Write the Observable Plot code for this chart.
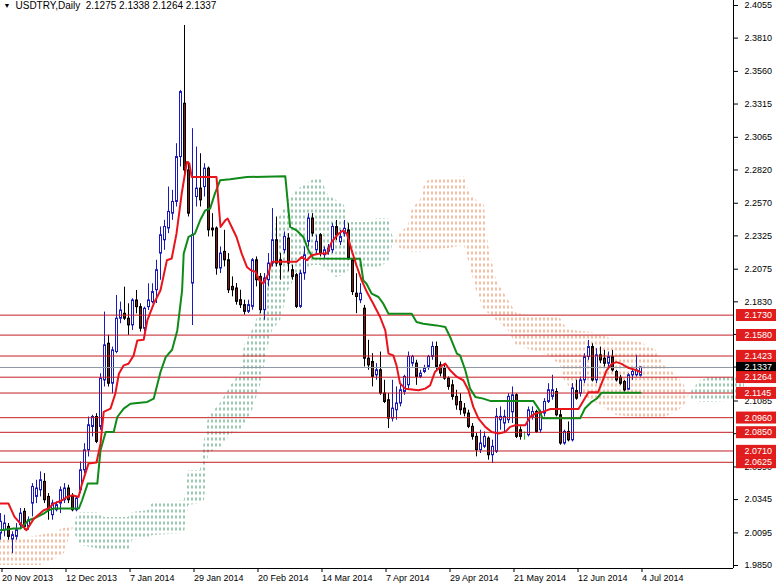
<!DOCTYPE html>
<html><head><meta charset="utf-8">
<script src="https://cdn.jsdelivr.net/npm/d3@7"></script>
<script src="https://cdn.jsdelivr.net/npm/@observablehq/plot@0.6"></script>
<style>
html,body{margin:0;padding:0;background:#fff;}
svg{display:block;}
svg text{white-space:pre;}
</style>
</head><body><div id="chart"></div>
<script>
// ---- data (USDTRY daily, bar index 0 = 20 Nov 2013) ----
const barOpen = [2.0090,2.0115,2.0140,2.0045,2.0065,2.0153,2.0253,2.0140,2.0315,2.0365,2.0415,2.0478,2.0365,2.0228,2.0265,2.0315,2.0340,2.0428,2.0365,2.0265,
2.0415,2.0565,2.0715,2.0890,2.0965,2.0890,2.1240,2.1515,2.1215,2.1453,2.1703,2.1740,2.1703,2.1653,2.1840,2.1790,2.1628,2.1790,2.1828,2.1917,
2.2192,2.2292,2.2380,2.2492,2.2580,2.2917,2.3317,2.2817,2.1967,2.2617,2.2680,2.2692,2.2830,2.2380,2.2380,2.2080,2.2205,2.2142,2.1942,2.1930,
2.1842,2.1805,2.1755,2.1792,2.2142,2.2017,2.1767,2.1992,2.2117,2.2292,2.2142,2.2217,2.2305,2.2067,2.2030,2.1792,2.2042,2.2280,2.2455,2.2217,
2.2330,2.2180,2.2205,2.2217,2.2391,2.2278,2.2341,2.2366,2.2141,2.1891,2.1841,2.1778,2.1403,2.1378,2.1278,2.1316,2.1141,2.1091,2.0953,2.1016,
2.1066,2.1153,2.1203,2.1366,2.1366,2.1266,2.1303,2.1341,2.1416,2.1491,2.1353,2.1328,2.1253,2.1203,2.1116,2.1078,2.1028,2.0991,2.0891,2.0816,
2.0716,2.0741,2.0803,2.0678,2.0703,2.0941,2.0916,2.0941,2.1000,2.1128,2.0866,2.0830,2.0828,2.0966,2.1003,2.0866,2.0991,2.1078,2.1116,2.1153,
2.0978,2.0766,2.0853,2.0790,2.1160,2.1140,2.1240,2.1415,2.1490,2.1240,2.1428,2.1403,2.1365,2.1415,2.1303,2.1260,2.1228,2.1170,2.1278,2.1278,
2.1275];
const barHigh = [2.0240,2.0228,2.0165,2.0103,2.0165,2.0278,2.0278,2.0215,2.0465,2.0490,2.0553,2.0540,2.0390,2.0340,2.0328,2.0440,2.0465,2.0453,2.0390,2.0365,
2.0628,2.0765,2.0965,2.0978,2.0990,2.1290,2.1753,2.1578,2.1490,2.1878,2.1828,2.1940,2.1815,2.1853,2.1915,2.1815,2.1790,2.1965,2.1965,2.2142,
2.2392,2.2442,2.2692,2.2667,2.3017,2.3417,2.3905,2.2880,2.3130,2.2992,2.2942,2.2867,2.2842,2.2492,2.2392,2.2242,2.2367,2.2192,2.2017,2.1967,
2.1917,2.1842,2.1842,2.2155,2.2167,2.2042,2.2042,2.2192,2.2530,2.2467,2.2192,2.2355,2.2342,2.2105,2.2042,2.2067,2.2242,2.2492,2.2492,2.2330,
2.2342,2.2242,2.2260,2.2417,2.2441,2.2366,2.2441,2.2416,2.2153,2.2041,2.1966,2.1803,2.1541,2.1441,2.1366,2.1453,2.1241,2.1141,2.1241,2.1191,
2.1203,2.1278,2.1453,2.1428,2.1391,2.1316,2.1353,2.1428,2.1528,2.1528,2.1378,2.1353,2.1266,2.1241,2.1166,2.1141,2.1066,2.1016,2.0916,2.0841,
2.0866,2.0853,2.0816,2.0791,2.1028,2.1041,2.1016,2.1141,2.1191,2.1140,2.0891,2.0853,2.1040,2.1041,2.1016,2.1016,2.1103,2.1215,2.1278,2.1178,
2.1016,2.0866,2.0928,2.1216,2.1241,2.1265,2.1440,2.1540,2.1515,2.1478,2.1490,2.1465,2.1453,2.1465,2.1315,2.1278,2.1240,2.1290,2.1328,2.1428,
2.1338];
const barLow = [2.0040,2.0065,2.0040,1.9940,2.0040,2.0128,2.0115,2.0115,2.0215,2.0315,2.0365,2.0315,2.0190,2.0190,2.0253,2.0240,2.0315,2.0315,2.0253,2.0253,
2.0390,2.0540,2.0665,2.0815,2.0765,2.0865,2.1190,2.1190,2.1140,2.1440,2.1665,2.1690,2.1578,2.1615,2.1740,2.1603,2.1603,2.1765,2.1815,2.1817,
2.1992,2.2217,2.2342,2.2442,2.2542,2.2842,2.2792,2.2467,2.1652,2.2542,2.2542,2.2617,2.2317,2.2317,2.2030,2.2042,2.2092,2.1892,2.1867,2.1805,
2.1780,2.1730,2.1742,2.1767,2.1942,2.1742,2.1692,2.1942,2.2092,2.2092,2.1992,2.2192,2.2055,2.1992,2.1780,2.1780,2.1992,2.2242,2.2317,2.2180,
2.2167,2.2155,2.2180,2.2192,2.2291,2.2253,2.2316,2.2141,2.1878,2.1741,2.1816,2.1341,2.1316,2.1191,2.1241,2.1128,2.1066,2.0878,2.0928,2.0941,
2.1041,2.1128,2.1178,2.1341,2.1203,2.1253,2.1291,2.1316,2.1391,2.1316,2.1266,2.1241,2.1166,2.1091,2.1016,2.0978,2.0966,2.0878,2.0791,2.0666,
2.0691,2.0728,2.0641,2.0616,2.0691,2.0866,2.0841,2.0916,2.0916,2.0803,2.0791,2.0791,2.0815,2.0941,2.0841,2.0841,2.0966,2.1066,2.1091,2.0966,
2.0753,2.0753,2.0778,2.0778,2.1091,2.1115,2.1215,2.1390,2.1228,2.1215,2.1365,2.1340,2.1340,2.1303,2.1228,2.1203,2.1153,2.1165,2.1240,2.1265,
2.1264];
const barClose = [2.0178,2.0165,2.0065,2.0078,2.0115,2.0240,2.0140,2.0190,2.0440,2.0428,2.0490,2.0340,2.0265,2.0315,2.0303,2.0415,2.0428,2.0340,2.0265,2.0353,
2.0565,2.0715,2.0903,2.0965,2.0778,2.1253,2.1503,2.1215,2.1465,2.1703,2.1765,2.1703,2.1653,2.1840,2.1790,2.1628,2.1778,2.1840,2.1903,2.2067,
2.2330,2.2392,2.2505,2.2580,2.2917,2.3405,2.2817,2.2492,2.2330,2.2680,2.2592,2.2830,2.2367,2.2367,2.2080,2.2192,2.2142,2.1917,2.1917,2.1830,
2.1805,2.1755,2.1805,2.2142,2.1992,2.1767,2.2005,2.2117,2.2292,2.2117,2.2105,2.2317,2.2117,2.2017,2.1792,2.2042,2.2180,2.2455,2.2342,2.2280,
2.2192,2.2217,2.2230,2.2392,2.2329,2.2316,2.2378,2.2153,2.1903,2.1866,2.1891,2.1403,2.1353,2.1266,2.1316,2.1141,2.1078,2.0953,2.1028,2.1066,
2.1166,2.1266,2.1416,2.1416,2.1266,2.1291,2.1328,2.1416,2.1491,2.1341,2.1291,2.1253,2.1191,2.1116,2.1053,2.1016,2.0991,2.0891,2.0816,2.0716,
2.0766,2.0816,2.0678,2.0741,2.0966,2.0966,2.0966,2.1116,2.1128,2.0816,2.0816,2.0830,2.1015,2.1003,2.0853,2.0991,2.1078,2.1166,2.1166,2.0978,
2.0766,2.0853,2.0790,2.1180,2.1103,2.1240,2.1415,2.1490,2.1240,2.1428,2.1390,2.1365,2.1415,2.1315,2.1240,2.1215,2.1165,2.1278,2.1303,2.1315,
2.1337];

// Tenkan-sen (red) and Kijun-sen (green): [bar index, price] at the line's vertices
const tenkanPts = [[0,2.0315],[2,2.0315],[3.5,2.0215],[6.5,2.0115],[8.3,2.0200],[10.8,2.0265],[12,2.0278],[13.3,2.0315],[15.4,2.0340],[16.7,2.0365],[18,2.0378],[19.5,2.0365],[20.4,2.0465],[22,2.0615],[24,2.0623],[25,2.0765],[25.8,2.1003],[27.5,2.1028],[28.7,2.1140],[29.6,2.1290],[30.8,2.1353],[32,2.1365],[33.3,2.1428],[34.2,2.1540],[35.8,2.1545],[36.7,2.1690],[38.3,2.1815],[40,2.1917],[41.6,2.2142],[42.8,2.2155],[44,2.2342],[45.3,2.2642],[46.6,2.2880],[47.2,2.2870],[47.8,2.2767],[54,2.2767],[55,2.2392],[56.2,2.2442],[56.8,2.2455],[57.8,2.2392],[59,2.2317],[60.3,2.2192],[61.6,2.2092],[62.6,2.2067],[63.8,2.2055],[64.7,2.1992],[65.7,2.1967],[67,2.2042],[67.8,2.2130],[74,2.2130],[75.3,2.2167],[76.6,2.2142],[77.8,2.2180],[79.9,2.2192],[81.6,2.2192],[82.8,2.2280],[84.5,2.2341],[85.7,2.2366],[86.6,2.2341],[87.8,2.2216],[89,2.2103],[90.3,2.1991],[91.6,2.1903],[93.2,2.1816],[94.9,2.1716],[96.2,2.1616],[97,2.1441],[98.2,2.1428],[99,2.1353],[99.9,2.1216],[101.2,2.1178],[104.5,2.1166],[106.2,2.1178],[107.4,2.1203],[108.6,2.1303],[109.9,2.1341],[111.2,2.1366],[112.4,2.1316],[114.1,2.1266],[115.7,2.1241],[117,2.1166],[118.2,2.1041],[119.5,2.0953],[121.2,2.0891],[122.8,2.0853],[124.5,2.0841],[126.2,2.0853],[127.4,2.0891],[128.7,2.0903],[131.2,2.0903],[132.4,2.0966],[133.7,2.0991],[135.7,2.1005],[137.5,2.1025],[144.5,2.1025],[147,2.1151],[149.4,2.1151],[150.3,2.1220],[151.5,2.1314],[152.8,2.1364],[154,2.1377],[155.3,2.1364],[156.9,2.1335],[158.6,2.1320],[160,2.1303]];
const kijunPts = [[0,2.0115],[3.3,2.0128],[5,2.0128],[7,2.0190],[8.3,2.0203],[10.8,2.0240],[12,2.0265],[13.3,2.0278],[19.6,2.0278],[20.4,2.0340],[21.8,2.0465],[24.2,2.0465],[25,2.0715],[26.3,2.0853],[28.3,2.0853],[29.2,2.0965],[30.8,2.1028],[32.5,2.1065],[36.7,2.1078],[38.3,2.1103],[40,2.1303],[41.3,2.1415],[42.9,2.1470],[44.2,2.1615],[45.4,2.1915],[45.8,2.2192],[47,2.2317],[48.6,2.2342],[49.9,2.2442],[51.2,2.2517],[52.4,2.2530],[53.6,2.2642],[54.9,2.2742],[57.4,2.2750],[61.6,2.2767],[71.2,2.2772],[72.4,2.2392],[74,2.2367],[75.7,2.2317],[77,2.2217],[78.2,2.2155],[89.9,2.2153],[90.7,2.1991],[91.5,2.1966],[92.8,2.1891],[94.5,2.1866],[95.7,2.1816],[97,2.1741],[102.8,2.1741],[104,2.1678],[105.7,2.1666],[109,2.1653],[111.2,2.1641],[112.4,2.1566],[114.1,2.1441],[114.9,2.1428],[116.2,2.1316],[117.4,2.1178],[118.7,2.1116],[120.7,2.1103],[122.4,2.1086],[133.2,2.1086],[134.5,2.1028],[135.5,2.0955],[144.9,2.0955],[146.1,2.1029],[147.8,2.1079],[149.1,2.1104],[150.3,2.1148],[160,2.1148]];
// Kumo: [bar index, Senkou span A, Senkou span B]
const cloudPts = [[0,1.9850,2.0038],[5,1.9850,2.0053],[10,1.9850,2.0075],[13,1.9888,2.0098],[16,1.9940,2.0128],[18,2.0135,2.0135],
[19,2.0210,2.0060],[20,2.0248,2.0000],[24,2.0248,1.9978],[26,2.0210,1.9963],[32,2.0210,1.9963],[33,2.0248,2.0038],[37,2.0263,2.0060],[38,2.0316,2.0075],[46,2.0338,2.0090],[47,2.0563,2.0301],[50,2.0563,2.0316],[51,2.0789,2.0338],[52,2.0961,2.0691],[55,2.1066,2.0736],[58,2.1217,2.0841],[60,2.1292,2.0864],[61,2.1502,2.0901],[63,2.1615,2.1014],[65,2.1765,2.1202],[67,2.1990,2.1502],[68,2.2365,2.1615],[70,2.2478,2.1690],[72,2.2591,2.1915],[74,2.2666,2.2028],[76,2.2703,2.2065],[78,2.2741,2.2103],[80,2.2756,2.2103],[82,2.2628,2.2065],[84,2.2591,2.2013],[86,2.2553,2.2028],[87,2.2426,2.2065],[93,2.2426,2.2080],[94,2.2456,2.2080],[97,2.2456,2.2125],[98,2.2328,2.2253],[98.5,2.2290,2.2290],
[99,2.2253,2.2313],[100,2.2230,2.2343],[102,2.2215,2.2403],[103,2.2200,2.2531],[105,2.2200,2.2591],[106,2.2215,2.2703],[107,2.2215,2.2741],[112,2.2230,2.2756],[116,2.2253,2.2771],[117,2.2140,2.2666],[119,2.1915,2.2591],[121,2.1765,2.2553],[122,2.1742,2.2253],[124,2.1690,2.1990],[127,2.1615,2.1840],[129,2.1502,2.1742],[133,2.1464,2.1727],[137,2.1427,2.1727],[140,2.1352,2.1705],[141,2.1239,2.1652],[143,2.1164,2.1615],[148,2.1089,2.1600],[154,2.0976,2.1539],[160,2.0961,2.1524],[164,2.0961,2.1464],[166,2.0961,2.1352],[169,2.0999,2.1277],[171,2.1051,2.1202],[172,2.1127,2.1127],
[173,2.1164,2.1089],[175,2.1239,2.1074],[178,2.1262,2.1074],[186,2.1262,2.1089]];

const levelPrices = [2.1730, 2.1580, 2.1423, 2.1264, 2.1145, 2.0960, 2.0850, 2.0710, 2.0625];
const bidPrice = 2.1337;
const yTicks = [2.4055,2.3810,2.3560,2.3315,2.3065,2.2820,2.2570,2.2325,2.2075,2.1830,2.1585,2.1340,2.1085,2.0840,2.0590,2.0345,2.0095,1.9850];
const xTickIdx = [0,16,32,48,64,80,96,112,128,144,160];
const xTickLabels = ["20 Nov 2013","12 Dec 2013","7 Jan 2014","29 Jan 2014","20 Feb 2014","14 Mar 2014","7 Apr 2014","29 Apr 2014","21 May 2014","12 Jun 2014","4 Jul 2014"];
const titleText = "USDTRY,Daily  2.1275 2.1338 2.1264 2.1337";

// ---- build tables ----
const bars = barOpen.map((o, i) => ({i, open: o, high: barHigh[i], low: barLow[i], close: barClose[i]}));
const kind = d => d.close > d.open ? "up" : d.close < d.open ? "down" : "doji";
const UPC = "#1a1ab8", DOWNFILL = "#7a1a12", DOJI = "#22c022";

const cloudRows = [];
let seg = 0;
cloudPts.forEach(([i, a, b], k) => {
  cloudRows.push({i, a, b, seg});
  if (a === b && k > 0 && k < cloudPts.length - 1) { seg++; cloudRows.push({i, a, b, seg}); }
});
const segUp = {};
for (const r of cloudRows) if (r.a !== r.b && segUp[r.seg] === undefined) segUp[r.seg] = r.a > r.b;
const cloudUp = cloudRows.filter(r => segUp[r.seg]);
const cloudDown = cloudRows.filter(r => !segUp[r.seg]);

const xMax = 183.25, yMin = 1.98275, yMax = 2.40925;
const strokeOf = d => kind(d) === "up" ? UPC : kind(d) === "down" ? "#000" : DOJI;

const chart = Plot.plot({
  width: 776, height: 585,
  marginTop: 0, marginLeft: 0, marginRight: 43, marginBottom: 17,
  style: {fontFamily: "'Liberation Sans', Arial, sans-serif", fontSize: "9px", background: "#fff", color: "#000", overflow: "hidden"},
  x: {type: "linear", domain: [0, xMax], label: null},
  y: {type: "linear", domain: [yMin, yMax], label: null},
  color: {type: "identity"},
  marks: [
    Plot.areaY(cloudUp, {x: "i", y1: "a", y2: "b", z: "seg", fill: "url(#kumoUp)"}),
    Plot.areaY(cloudDown, {x: "i", y1: "a", y2: "b", z: "seg", fill: "url(#kumoDown)"}),
    Plot.ruleX(bars, {x: "i", y1: "low", y2: "high", stroke: strokeOf}),
    Plot.rect(bars, {x1: d => d.i - 0.5, x2: d => d.i + 0.5, insetLeft: 1.5, insetRight: 0.5, y1: "open", y2: "close",
      fill: d => kind(d) === "up" ? "#fff" : DOWNFILL, stroke: strokeOf}),
    Plot.ruleY(levelPrices, {stroke: "#c41e24"}),
    Plot.ruleY([bidPrice], {stroke: "#8c98a4"}),
    Plot.line(kijunPts, {x: d => d[0], y: d => d[1], stroke: "#108a18", strokeWidth: 2}),
    Plot.line(tenkanPts, {x: d => d[0], y: d => d[1], stroke: "#e8141c", strokeWidth: 2}),
    Plot.ruleX([xMax], {stroke: "#000"}),
    Plot.ruleY([yMin], {stroke: "#000"}),
    Plot.axisY(yTicks, {anchor: "right", tickSize: 4, tickPadding: 7, tickFormat: d => d.toFixed(4), label: null}),
    Plot.axisX(xTickIdx, {anchor: "bottom", tickSize: 4, tickPadding: 2, tickFormat: d => xTickLabels[xTickIdx.indexOf(d)], textAnchor: "start", dx: 1.5, label: null}),
    Plot.text([bidPrice], {frameAnchor: "right", y: d => d, text: d => d.toFixed(4), dx: 11, textAnchor: "start", fill: "#fff", ariaDescription: "bidlabel"}),
    Plot.text(levelPrices, {frameAnchor: "right", y: d => d, text: d => d.toFixed(4), dx: 11, textAnchor: "start", fill: "#fff", ariaDescription: "levellabel"}),
    Plot.text([titleText], {frameAnchor: "top-left", dx: 15, dy: 1.5, lineAnchor: "top", textAnchor: "start", fill: "#000", fontSize: 10}),
    Plot.text(["\u25BC"], {frameAnchor: "top-left", dx: 3, dy: 3, lineAnchor: "top", textAnchor: "start", fontSize: 7, fill: "#000"})
  ]
});
document.getElementById("chart").append(chart);

// dotted-histogram look of the MT4 kumo
const svg = d3.select(chart);
const defs = svg.insert("defs", ":first-child");
function pattern(id, color) {
  const p = defs.append("pattern").attr("id", id).attr("patternUnits", "userSpaceOnUse")
    .attr("x", -0.5).attr("y", -0.5).attr("width", 4).attr("height", 6);
  p.append("rect").attr("x", 0).attr("y", 0).attr("width", 1).attr("height", 3).attr("fill", color);
}
pattern("kumoUp", "#3a9466");
pattern("kumoDown", "#e8804c");

// label boxes behind price-level texts
function boxes(label, color) {
  const texts = svg.selectAll("g").filter(function () {
    return this.getAttribute("aria-description") === label;
  }).selectAll("text");
  texts.each(function () {
    const b = this.getBBox();
    const cy = b.y + b.height / 2;
    const r = d3.select(this.parentNode).insert("rect", () => this)
      .attr("x", b.x - 8.5).attr("y", cy - 6).attr("width", 41).attr("height", 12).attr("fill", color);
    const t = this.getAttribute("transform");
    if (t) r.attr("transform", t);
  });
}
boxes("bidlabel", "#000");
boxes("levellabel", "#e01c1c");
</script></body></html>
